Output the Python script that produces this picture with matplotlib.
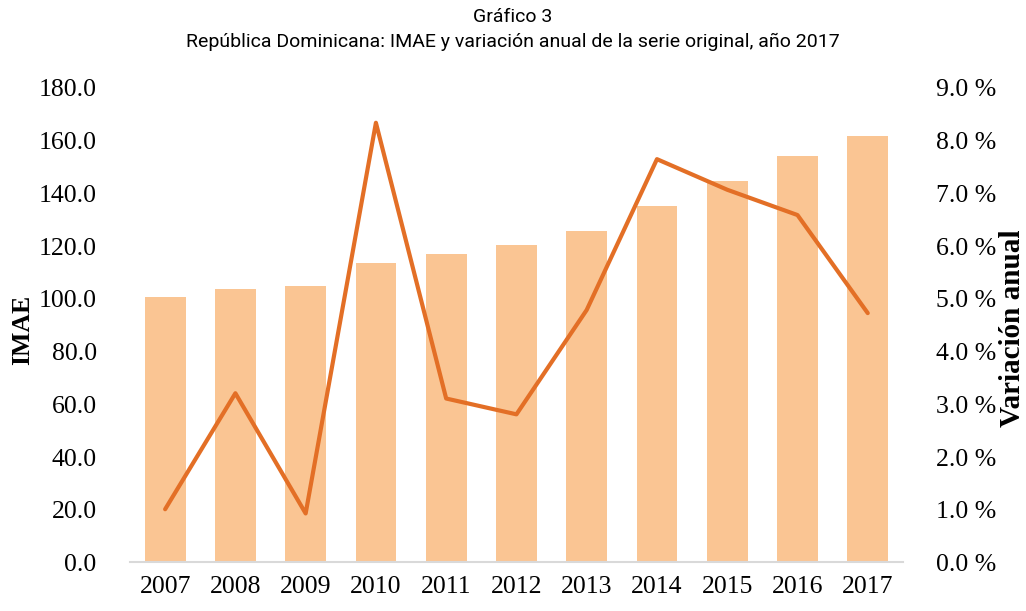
import numpy as np
from matplotlib import pyplot as plt
from matplotlib.ticker import FuncFormatter

# datos
anios = ['2007', '2008', '2009', '2010', '2011', '2012', '2013', '2014', '2015', '2016', '2017']
imae = [100.8, 103.6, 104.9, 113.6, 117.1, 120.4, 125.9, 135.4, 144.8, 154.2, 161.7]
variacion = [1.01, 3.21, 0.93, 8.34, 3.11, 2.81, 4.79, 7.65, 7.07, 6.59, 4.73]

serif = ['Liberation Serif', 'DejaVu Serif']
narrow = ['Liberation Sans Narrow', 'Roboto', 'DejaVu Sans']

fig = plt.figure(figsize=(10.26, 6.11), dpi=100)
ax = fig.add_axes([0.1267, 0.0794, 0.7533, 0.7766])
x = np.arange(len(anios))

ax.bar(x, imae, width=0.58, color='#FAC593', zorder=1)
ax.set_xlim(-0.5, len(anios) - 0.5)
ax.set_ylim(0, 180)
ax.set_yticks(np.arange(0, 181, 20))
ax.yaxis.set_major_formatter(FuncFormatter(lambda v, p: '%.1f' % v))
ax.set_xticks(x)
ax.set_xticklabels(anios)

ax2 = ax.twinx()
ax2.plot(x, variacion, color='#E36F26', linewidth=3.0, solid_capstyle='round', zorder=3)
ax2.set_ylim(0, 9)
ax2.set_yticks(np.arange(0, 9.1, 1))
ax2.yaxis.set_major_formatter(FuncFormatter(lambda v, p: '%.1f %%' % v))

for a in (ax, ax2):
    for s in ['top', 'left', 'right', 'bottom']:
        a.spines[s].set_visible(False)
    a.tick_params(length=0)
ax.spines['bottom'].set_visible(True)
ax.spines['bottom'].set_color('#D9D9D9')
ax.spines['bottom'].set_linewidth(1.5)

for lab in ax.get_yticklabels() + ax.get_xticklabels() + ax2.get_yticklabels():
    lab.set_family(serif)
    lab.set_fontsize(18.5)
ax.tick_params(axis='y', pad=24)
ax.tick_params(axis='x', pad=10)
ax2.tick_params(axis='y', pad=24)

fig.text(0.022, 0.46, 'IMAE', rotation=90, ha='center', va='center',
         family=serif, fontsize=18.5, fontweight='bold')
fig.text(0.987, 0.462, 'Variación anual', rotation=90, ha='center', va='center',
         family=serif, fontsize=21, fontweight='bold')

fig.text(0.5, 0.972, 'Gráfico 3', ha='center', va='center', family=narrow, fontsize=14)
fig.text(0.5, 0.931, 'República Dominicana: IMAE y variación anual de la serie original, año 2017',
         ha='center', va='center', family=narrow, fontsize=14)

fig.savefig('out.png', dpi=100)
